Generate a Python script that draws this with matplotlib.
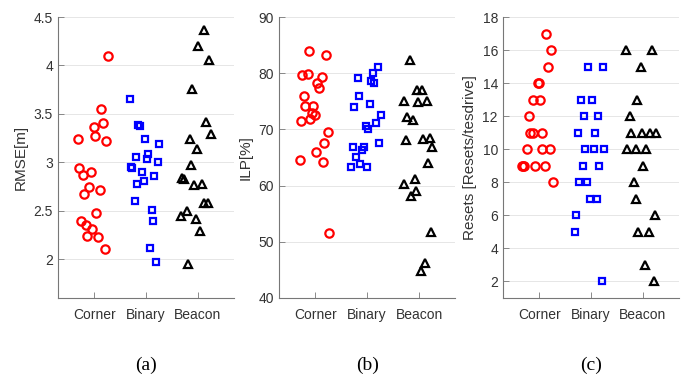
import numpy as np
import matplotlib.pyplot as plt
from matplotlib.ticker import FormatStrFormatter

categories = ["Corner", "Binary", "Beacon"]

# (a) RMSE[m]
rmse_corner_x = [1.26, 1.13, 1.17, 0.99, 0.69, 1.02, 1.22, 0.71, 0.78, 0.94,
                 0.89, 1.11, 0.80, 1.04, 0.74, 0.84, 0.96, 0.86, 1.07, 1.20]
rmse_corner_y = [4.10, 3.55, 3.41, 3.36, 3.24, 3.27, 3.22, 2.94, 2.87, 2.90,
                 2.75, 2.71, 2.67, 2.48, 2.39, 2.35, 2.31, 2.24, 2.23, 2.10]
rmse_binary_x = [1.69, 1.85, 1.88, 1.98, 2.25, 2.04, 1.80, 2.01, 2.22, 1.71,
                 1.72, 1.92, 2.15, 1.96, 1.83, 1.78, 2.11, 2.13, 2.07, 2.19]
rmse_binary_y = [3.65, 3.39, 3.38, 3.24, 3.19, 3.09, 3.05, 3.03, 3.00, 2.95,
                 2.94, 2.90, 2.86, 2.81, 2.78, 2.60, 2.51, 2.39, 2.12, 1.97]
rmse_beacon_x = [3.11, 3.01, 3.22, 2.88, 3.16, 3.25, 2.84, 2.98, 2.86, 2.70,
                 2.74, 2.92, 3.07, 3.12, 3.20, 2.78, 2.67, 2.96, 3.04, 2.80]
rmse_beacon_y = [4.37, 4.20, 4.06, 3.76, 3.42, 3.29, 3.24, 3.14, 2.97, 2.84,
                 2.83, 2.77, 2.78, 2.58, 2.58, 2.50, 2.45, 2.41, 2.29, 1.95]

# (b) ILP[%]
ilp_corner_x = [0.87, 1.21, 0.74, 0.85, 1.12, 1.04, 1.08, 0.78, 0.81, 0.96,
                0.93, 1.00, 0.90, 0.72, 1.24, 1.17, 1.01, 1.14, 0.70, 1.26]
ilp_corner_y = [84.0, 83.3, 79.7, 79.8, 79.3, 78.2, 77.3, 75.9, 74.1, 74.1,
                72.9, 72.6, 71.9, 71.5, 69.6, 67.5, 66.0, 64.2, 64.6, 51.5]
ilp_binary_x = [2.21, 2.11, 1.82, 2.08, 2.14, 1.85, 2.05, 1.75, 2.26, 2.18,
                1.97, 2.02, 2.23, 1.72, 1.94, 1.90, 1.78, 1.87, 1.69, 2.00]
ilp_binary_y = [81.1, 80.0, 79.2, 78.7, 78.3, 75.9, 74.6, 73.9, 72.5, 71.1,
                70.6, 70.0, 67.6, 66.9, 66.9, 66.3, 65.1, 63.8, 63.3, 63.3]
ilp_beacon_x = [2.83, 2.97, 3.06, 2.71, 2.98, 3.15, 2.77, 2.88, 2.75, 3.08,
                3.21, 3.26, 3.18, 2.92, 2.72, 2.95, 2.85, 3.24, 3.12, 3.03]
ilp_beacon_y = [82.3, 77.1, 77.0, 75.0, 74.8, 75.0, 72.2, 71.6, 68.2, 68.3,
                68.5, 66.9, 64.0, 61.1, 60.2, 59.1, 58.2, 51.8, 46.2, 44.8]

# (c) Resets
res_corner_x = [1.14, 1.23, 1.17, 0.97, 0.99, 0.88, 1.01, 0.81, 0.83, 0.88,
                1.05, 0.77, 1.06, 1.20, 0.66, 0.68, 0.71, 0.92, 1.11, 1.26]
res_corner_y = [17, 16, 15, 14, 14, 13, 13, 12, 11, 11,
                11, 10, 10, 10, 9, 9, 9, 9, 9, 8]
res_binary_x = [1.95, 2.23, 1.80, 2.01, 1.86, 2.14, 1.75, 2.08, 1.89, 2.05,
                2.26, 1.84, 2.16, 1.77, 1.93, 1.98, 2.12, 1.72, 1.69, 2.21]
res_binary_y = [15, 15, 13, 13, 12, 12, 11, 11, 10, 10,
                10, 9, 9, 8, 8, 7, 7, 6, 5, 2]
res_beacon_x = [2.68, 3.18, 2.96, 2.88, 2.75, 2.77, 2.98, 3.14, 3.26, 2.69,
                2.86, 3.07, 3.01, 2.82, 2.86, 3.23, 2.90, 3.12, 3.05, 3.21]
res_beacon_y = [16, 16, 15, 13, 12, 11, 11, 11, 11, 10,
                10, 10, 9, 8, 7, 6, 5, 5, 3, 2]

plt.rcParams['font.family'] = ['Liberation Sans', 'DejaVu Sans']

fig = plt.figure(figsize=(6.86, 3.79), dpi=100)

panels = [
    ([rmse_corner_x, rmse_binary_x, rmse_beacon_x],
     [rmse_corner_y, rmse_binary_y, rmse_beacon_y],
     "RMSE[m]", (1.6, 4.5), np.arange(2, 4.51, 0.5), "(a)", 0.0845),
    ([ilp_corner_x, ilp_binary_x, ilp_beacon_x],
     [ilp_corner_y, ilp_binary_y, ilp_beacon_y],
     "ILP[%]", (40, 90), np.arange(40, 91, 10), "(b)", 0.4067),
    ([res_corner_x, res_binary_x, res_beacon_x],
     [res_corner_y, res_binary_y, res_beacon_y],
     "Resets [Resets/tesdrive]", (1, 18), np.arange(2, 19, 2), "(c)", 0.733),
]

styles = [("o", "#ff0000", 6), ("s", "#0000ff", 5), ("^", "#000000", 6)]
txt = "#333333"

for xs, ys, ylab, ylim, yt, tag, left in panels:
    ax = fig.add_axes([left, 0.214, 0.257, 0.741])
    for x, y, (m, c, s) in zip(xs, ys, styles):
        ax.plot(x, y, linestyle="none", marker=m, markersize=s,
                markerfacecolor="none", markeredgecolor=c, markeredgewidth=1.6)
    ax.set_xlim(0.3, 3.7)
    ax.set_ylim(*ylim)
    ax.set_xticks([1, 2, 3])
    ax.set_xticklabels(categories)
    ax.set_yticks(yt)
    ax.yaxis.set_major_formatter(FormatStrFormatter("%g"))
    ax.grid(axis="y", color="#e6e6e6", linewidth=0.7)
    ax.set_axisbelow(True)
    for sp in ["top", "right"]:
        ax.spines[sp].set_visible(False)
    for sp in ["left", "bottom"]:
        ax.spines[sp].set_color("#777777")
        ax.spines[sp].set_linewidth(0.8)
    ax.tick_params(direction="in", length=4, width=0.6, color="#777777",
                   labelcolor=txt, labelsize=10)
    ax.tick_params(axis="x", pad=7)
    ax.set_ylabel(ylab, fontsize=11, color=txt, labelpad=4)
    ax.text(0.5, -0.24, tag, transform=ax.transAxes, ha="center", va="center",
            fontsize=14, family="Liberation Serif")

plt.savefig("out.png", dpi=100)
